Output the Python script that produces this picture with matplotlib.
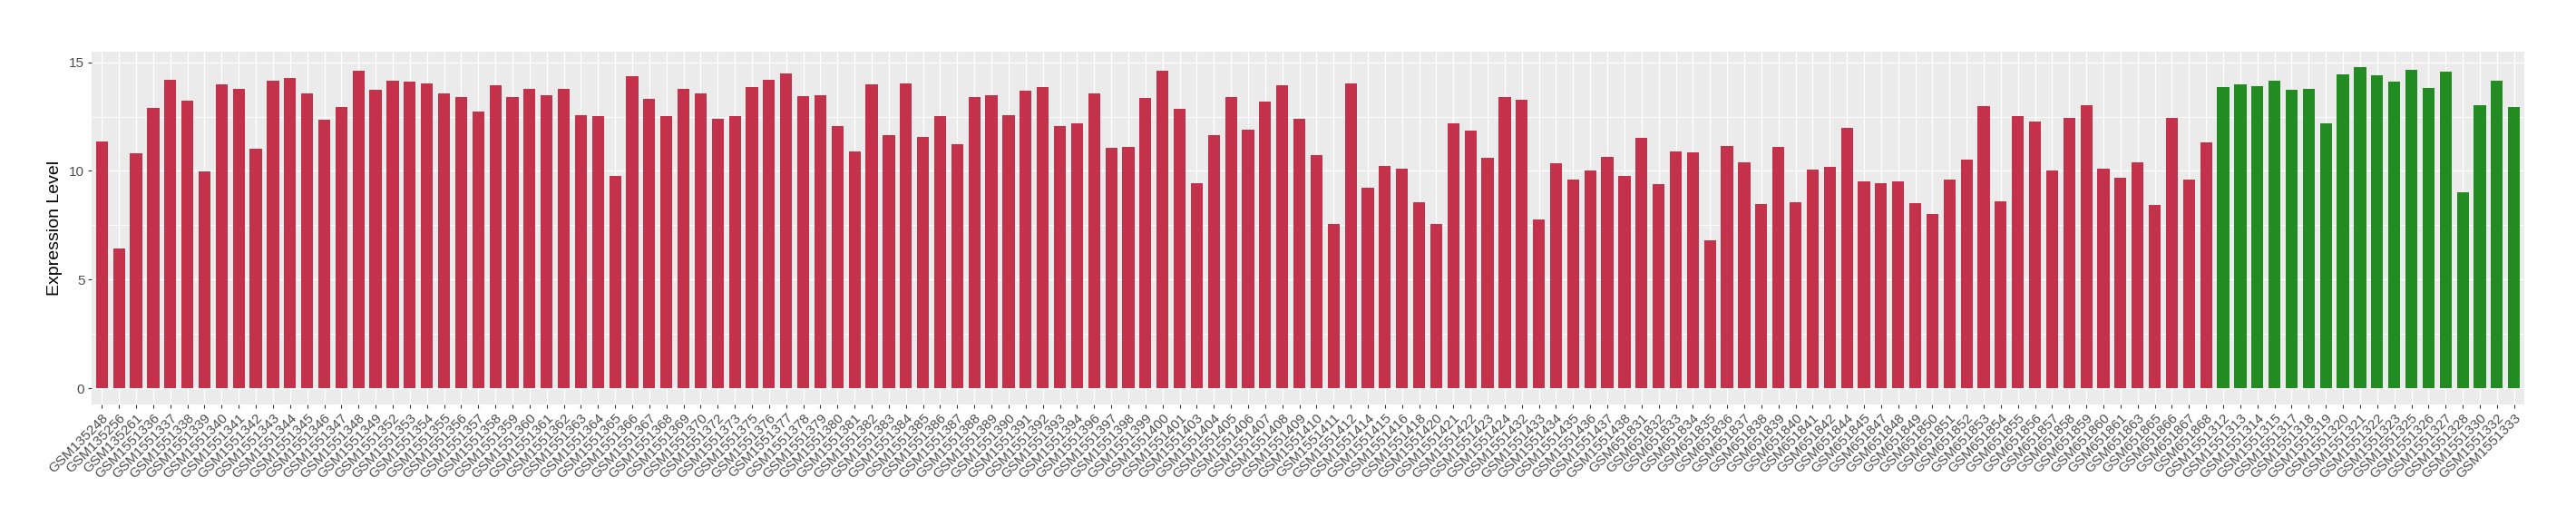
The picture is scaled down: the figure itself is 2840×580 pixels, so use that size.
import matplotlib
matplotlib.use("Agg")
import matplotlib.pyplot as plt
import numpy as np

plt.rcParams['font.family'] = ['Liberation Sans', 'DejaVu Sans']

# sample ids, in plot order
samples = [
    "GSM135248", "GSM135256", "GSM135261",
    "GSM1551336", "GSM1551337", "GSM1551338", "GSM1551339", "GSM1551340",
    "GSM1551341", "GSM1551342", "GSM1551343", "GSM1551344", "GSM1551345",
    "GSM1551346", "GSM1551347", "GSM1551348", "GSM1551349",
    "GSM1551352", "GSM1551353", "GSM1551354", "GSM1551355", "GSM1551356",
    "GSM1551357", "GSM1551358", "GSM1551359", "GSM1551360", "GSM1551361",
    "GSM1551362", "GSM1551363", "GSM1551364", "GSM1551365", "GSM1551366",
    "GSM1551367", "GSM1551368", "GSM1551369", "GSM1551370",
    "GSM1551372", "GSM1551373",
    "GSM1551375", "GSM1551376", "GSM1551377", "GSM1551378", "GSM1551379",
    "GSM1551380", "GSM1551381", "GSM1551382", "GSM1551383", "GSM1551384",
    "GSM1551385", "GSM1551386", "GSM1551387", "GSM1551388", "GSM1551389",
    "GSM1551390", "GSM1551391", "GSM1551392", "GSM1551393", "GSM1551394",
    "GSM1551396", "GSM1551397", "GSM1551398", "GSM1551399", "GSM1551400",
    "GSM1551401",
    "GSM1551403", "GSM1551404", "GSM1551405", "GSM1551406", "GSM1551407",
    "GSM1551408", "GSM1551409", "GSM1551410", "GSM1551411", "GSM1551412",
    "GSM1551414", "GSM1551415", "GSM1551416", "GSM1551418",
    "GSM1551420", "GSM1551421", "GSM1551422", "GSM1551423", "GSM1551424",
    "GSM1551432", "GSM1551433", "GSM1551434", "GSM1551435", "GSM1551436",
    "GSM1551437", "GSM1551438",
    "GSM651831", "GSM651832", "GSM651833", "GSM651834", "GSM651835",
    "GSM651836", "GSM651837", "GSM651838", "GSM651839", "GSM651840",
    "GSM651841", "GSM651842", "GSM651844", "GSM651845",
    "GSM651847", "GSM651848", "GSM651849", "GSM651850", "GSM651851",
    "GSM651852", "GSM651853", "GSM651854", "GSM651855", "GSM651856",
    "GSM651857", "GSM651858", "GSM651859", "GSM651860", "GSM651861",
    "GSM651863", "GSM651865", "GSM651866", "GSM651867", "GSM651868",
    "GSM1551312", "GSM1551313", "GSM1551314", "GSM1551315", "GSM1551317",
    "GSM1551318", "GSM1551319", "GSM1551320", "GSM1551321", "GSM1551322",
    "GSM1551323", "GSM1551325", "GSM1551326", "GSM1551327", "GSM1551328",
    "GSM1551330", "GSM1551332", "GSM1551333",
]

expression = [
    11.35, 6.43, 10.81, 12.89, 14.18, 13.22, 9.97, 13.97, 13.76, 11.01,
    14.14, 14.26, 13.56, 12.35, 12.93, 14.60, 13.72, 14.14, 14.10, 14.01,
    13.56, 13.39, 12.72, 13.93, 13.39, 13.76, 13.47, 13.76, 12.56, 12.51,
    9.76, 14.35, 13.31, 12.51, 13.76, 13.56, 12.39, 12.51, 13.85, 14.18,
    14.47, 13.43, 13.47, 12.06, 10.89, 13.97, 11.64, 14.01, 11.56, 12.51,
    11.22, 13.39, 13.47, 12.56, 13.68, 13.85, 12.06, 12.18, 13.56, 11.06,
    11.10, 13.35, 14.60, 12.85, 9.43, 11.64, 13.39, 11.89, 13.18, 13.93,
    12.39, 10.72, 7.56, 14.01, 9.22, 10.22, 10.10, 8.56, 7.56, 12.18,
    11.85, 10.60, 13.39, 13.26, 7.76, 10.35, 9.60, 10.01, 10.64, 9.76,
    11.51, 9.39, 10.89, 10.85, 6.81, 11.14, 10.39, 8.47, 11.10, 8.56,
    10.06, 10.18, 11.97, 9.51, 9.43, 9.51, 8.51, 8.01, 9.60, 10.51,
    12.97, 8.60, 12.51, 12.26, 10.01, 12.43, 13.01, 10.10, 9.68, 10.39,
    8.43, 12.43, 9.60, 11.31,
    13.85, 13.97, 13.89, 14.14, 13.72, 13.76, 12.18, 14.43, 14.76, 14.39,
    14.10, 14.64, 13.81, 14.56, 9.01, 13.01, 14.14, 12.93,
]

group = ["tumor"] * 124 + ["normal"] * 18
group_colors = {"tumor": "#C3314A", "normal": "#228B22"}

fig = plt.figure(figsize=(28.4, 5.8), dpi=100)
ax = fig.add_axes([101 / 2840, 1 - 445.7 / 580, (2783 - 101) / 2840, (445.7 - 56.7) / 580])

x = np.arange(len(samples))
ax.bar(x, expression, width=0.7, color=[group_colors[g] for g in group], zorder=2)

ax.set_xlim(-0.6, len(samples) - 0.4)
top = max(expression)
ax.set_ylim(-0.05 * top, top * 1.05)

ax.set_facecolor("#EBEBEB")
for s in ax.spines.values():
    s.set_visible(False)

ax.set_yticks([0, 5, 10, 15])
ax.set_yticks([2.5, 7.5, 12.5], minor=True)
ax.grid(which="major", color="white", linewidth=1.0, zorder=0)
ax.grid(which="minor", axis="y", color="white", linewidth=0.6, zorder=0)
ax.set_axisbelow(True)

ax.set_xticks(x)
ax.set_xticklabels(samples, rotation=45, ha="right", va="top", rotation_mode="anchor")
ax.tick_params(which="major", length=3, width=0.8, color="#333333",
               labelsize=11, labelcolor="#4D4D4D", pad=2.5)
ax.tick_params(which="minor", length=0)

ax.set_ylabel("Expression Level", fontsize=14, color="black", labelpad=5)

fig.savefig("out.png", dpi=100)
